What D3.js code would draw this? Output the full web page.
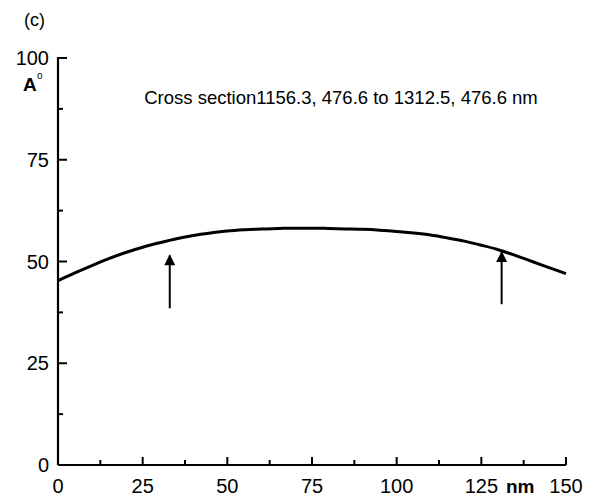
<!DOCTYPE html>
<html><head><meta charset="utf-8">
<script src="https://cdn.jsdelivr.net/npm/d3@7"></script>
<style>body{margin:0;background:#fff;} svg{display:block;font-family:"Liberation Sans",Arial,sans-serif;}</style>
</head><body>
<svg id="c" width="592" height="496"></svg>
<script>
const xTicks = [0, 25, 50, 75, 100, 125, 150];
const yTicks = [0, 25, 50, 75, 100];
const xPos = [0,5,10,15,20,25,30,35,40,45,50,55,60,65,70,75,80,85,90,95,100,105,110,115,120,125,130,135,140,145,150];
const heights = [45.3,47.2,49.0,50.7,52.2,53.5,54.6,55.6,56.4,57.0,57.5,57.8,58.0,58.1,58.2,58.2,58.1,58.0,57.9,57.7,57.4,57.0,56.5,55.8,55.0,54.0,52.9,51.5,50.0,48.5,47.0];
const arrowX = [33, 131];
const arrowFrom = [38.5, 39.5];
const arrowTo = [51.5, 52.3];
const titleText = "Cross section1156.3, 476.6 to 1312.5, 476.6 nm";

const svg = d3.select("#c");
const x = d3.scaleLinear().domain([0,150]).range([58,566]);
const y = d3.scaleLinear().domain([0,100]).range([465,58]);
const g = svg.append("g");

// axes lines
g.append("line").attr("x1",x(0)).attr("x2",x(150)).attr("y1",y(0)).attr("y2",y(0)).attr("stroke","#000").attr("stroke-width",2.2);
g.append("line").attr("x1",x(0)).attr("x2",x(0)).attr("y1",y(0)).attr("y2",y(100)-1).attr("stroke","#000").attr("stroke-width",2.2);

// x ticks (inward, up)
const xMinor = d3.range(12.5,150,25);
g.selectAll(".xt").data(xTicks.filter(d=>d>0)).join("line").attr("x1",d=>x(d)).attr("x2",d=>x(d)).attr("y1",y(0)).attr("y2",y(0)-8).attr("stroke","#000").attr("stroke-width",2);
g.selectAll(".xm").data(xMinor).join("line").attr("x1",d=>x(d)).attr("x2",d=>x(d)).attr("y1",y(0)).attr("y2",y(0)-5).attr("stroke","#000").attr("stroke-width",2);
// y ticks (inward, right)
const yMinor = d3.range(12.5,100,25);
g.selectAll(".yt").data(yTicks.filter(d=>d>0)).join("line").attr("x1",x(0)).attr("x2",x(0)+9).attr("y1",d=>y(d)).attr("y2",d=>y(d)).attr("stroke","#000").attr("stroke-width",2);
g.selectAll(".ym").data(yMinor).join("line").attr("x1",x(0)).attr("x2",x(0)+5).attr("y1",d=>y(d)).attr("y2",d=>y(d)).attr("stroke","#000").attr("stroke-width",2);

// x labels
g.selectAll(".xl").data(xTicks).join("text").attr("x",d=>x(d)).attr("y",493).attr("text-anchor","middle").attr("font-size",20).text(d=>d);
// y labels
g.selectAll(".yl").data(yTicks).join("text").attr("x",x(0)-9).attr("y",d=>y(d)+7).attr("text-anchor","end").attr("font-size",20).text(d=>d);

// curve
const line = d3.line().x((d,i)=>x(xPos[i])).y(d=>y(d)).curve(d3.curveMonotoneX);
g.append("path").attr("d",line(heights)).attr("fill","none").attr("stroke","#000").attr("stroke-width",3);

// arrows
svg.append("defs").append("marker").attr("id","ah").attr("viewBox","0 0 10 10").attr("refX",9).attr("refY",5)
  .attr("markerWidth",7).attr("markerHeight",5.5).attr("markerUnits","strokeWidth").attr("orient","auto")
  .append("path").attr("d","M0,0 L10,5 L0,10 z").attr("fill","#000");
g.selectAll(".ar").data(arrowX).join("line").attr("x1",d=>x(d)).attr("x2",d=>x(d))
  .attr("y1",(d,i)=>y(arrowFrom[i])).attr("y2",(d,i)=>y(arrowTo[i])).attr("stroke","#000").attr("stroke-width",2).attr("marker-end","url(#ah)");

// texts
svg.append("text").attr("x",24).attr("y",26).attr("font-size",18).text("(c)");
svg.append("text").attr("x",23).attr("y",91).attr("font-size",19).attr("font-weight","bold").text("A");
svg.append("text").attr("x",37).attr("y",79).attr("font-size",10).text("o");
svg.append("text").attr("x",341).attr("y",104).attr("text-anchor","middle").attr("font-size",18.5).text(titleText);
svg.append("text").attr("x",506).attr("y",493).attr("font-size",19).attr("font-weight","bold").text("nm");
</script>
</body></html>
